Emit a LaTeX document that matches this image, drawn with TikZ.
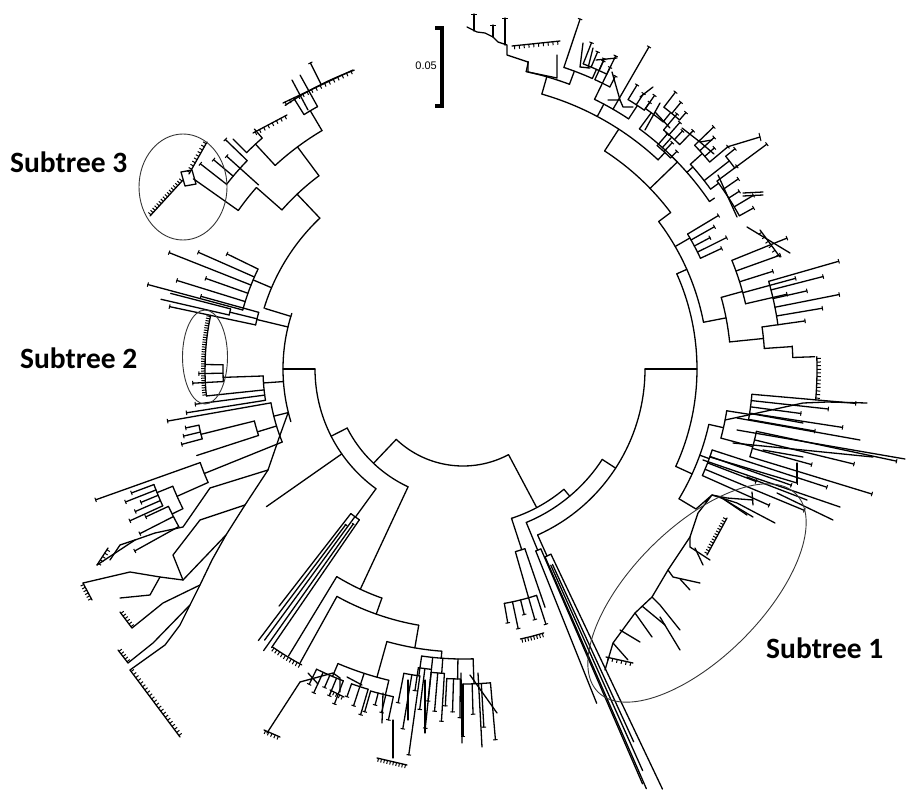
\documentclass[tikz,border=0pt]{standalone}
\usepackage{fontspec}
\setmainfont{Carlito}
\newfontfamily\barfont{Liberation Sans}
\usetikzlibrary{calc}
\tikzset{
  br/.style={line width=1.3pt,line cap=round,line join=round},
  tk/.style={line width=1pt},
  oval/.style={line width=0.9pt,draw=black!80},
  lbl/.style={font=\fontsize{29.5}{30}\selectfont\bfseries,anchor=base west,inner sep=0pt},
}
\newcommand\Rd[3]{\draw[br] (#1:#2) -- (#1:#3);}
\newcommand\Ar[3]{\draw[br] (#2:#1) arc[start angle=#2,end angle=#3,radius=#1];}
\newcommand\Tp[2]{\pgfmathsetmacro\dd{130/#2}\draw[tk] (#1-\dd:#2) -- (#1+\dd:#2);}
\newcommand\Fan[6]{\Ar{#3}{#1}{#2}%
  \foreach \i in {1,...,#4}{%
    \pgfmathsetmacro\aa{#1+(#2-#1)*(\i-1)/(#4-1)}%
    \pgfmathsetmacro\rr{#5+(#6-#5)*mod(\i*0.618+0.3,1)}%
    \draw[br] (\aa:#3) -- (\aa:\rr);\Tp{\aa}{\rr}}}
\newcommand\ArL[4]{\Ar{#1}{#2}{#3}%
  \pgfmathsetmacro\ro{#1+4}%
  \foreach \i in {1,...,#4}{%
    \pgfmathsetmacro\aa{#2+(#3-#2)*(\i-0.5)/#4}%
    \draw[tk] (\aa:#1) -- (\aa:\ro);}}
\newcommand\Lad[4]{\draw[br] (#1) -- (#2);
  \foreach \k in {1,...,#3}{%
    \pgfmathsetmacro\t{(\k-0.5)/#3}%
    \draw[tk] ($(#1)!\t!(#2)$) -- ($($(#1)!\t!(#2)$)!3.5pt!#4:(#2)$);}}
\begin{document}
\begin{tikzpicture}[x=1pt,y=1pt,yscale=-1]
\useasboundingbox (0,0) rectangle (910,795);
\begin{scope}[shift={(463,369)}]
% ---- root
\Ar{97}{62}{133.5}
% ---- right half skeleton
\Rd{62}{97}{157}\Ar{157}{50}{72}
\Rd{50}{157}{166}\Ar{166}{33}{67.6}
\Rd{33}{166}{182}\Ar{182}{0}{65.8}
\Rd{0}{182}{234}\Ar{234}{-24}{24.6}
\Rd{-24}{234}{245}\Ar{245}{-37}{-11}
\Rd{-37}{245}{260}\Ar{260}{-57}{-37}
\Rd{-11}{245}{268}\Ar{268}{-15.5}{-5.8}
\Rd{24.6}{234}{252}\Ar{252}{12.7}{31}
% ---- top right clade
\Rd{-57}{260}{286}\Ar{286}{-74}{-47}
\Rd{-74}{286}{304}\Ar{304}{-78}{-69.5}
\Rd{-78}{304}{314}
\Rd{-69.5}{304}{318}\Ar{318}{-71.5}{-66}
\Rd{-71.5}{318}{369}\Tp{-71.5}{369}
\Rd{-66}{318}{328}\Fan{-68.5}{-64}{328}{4}{336}{352}
\Rd{-62}{286}{300}\Ar{300}{-64}{-56.5}
\Rd{-64}{300}{318}\Fan{-65.5}{-62.5}{318}{3}{328}{342}
\Rd{-60}{300}{372}\Tp{-60}{372}
\Rd{-56.5}{300}{316}\Fan{-58.5}{-55}{316}{3}{324}{334}
\Rd{-47}{286}{296}\Fan{-49}{-45.5}{296}{3}{304}{312}
\Rd{-44}{260}{298}\Ar{298}{-53.7}{-34.2}
\Rd{-53.7}{298}{318}\Ar{318}{-55}{-51}\Rd{-55}{318}{334}\Tp{-55}{334}
\Rd{-51}{318}{330}\Fan{-52.5}{-49}{330}{3}{338}{350}
\Rd{-48}{298}{312}\Fan{-50}{-46}{312}{4}{322}{334}
\Rd{-41.3}{298}{306}\Ar{306}{-42}{-36}
\Rd{-42}{306}{322}\Fan{-44}{-40}{322}{4}{332}{350}
\Rd{-38}{306}{338}\Ar{338}{-39}{-36.5}\Rd{-36.5}{338}{378}\Tp{-36.5}{378}\Rd{-39}{338}{350}\Tp{-39}{350}
\Rd{-36}{306}{316}\Fan{-36.5}{-29}{316}{5}{326}{342}
\Rd{-34.2}{298}{304}
\Rd{-30}{245}{262}\Fan{-31}{-25}{262}{5}{276}{300}
% ---- right
\Rd{-15.5}{268}{290}\Fan{-22}{-13}{290}{5}{320}{352}
\Rd{-5.8}{268}{302}\Ar{302}{-8}{-3.9}
\Rd{-8}{302}{318}\Fan{-16}{-8}{318}{6}{345}{395}
\Rd{-3.9}{302}{330}\Ar{330}{-2}{-4}\Rd{-2}{330}{352}
\ArL{354}{-2}{5}{12}
% right lower
\Rd{12.7}{252}{267}\Ar{267}{9}{15}
\Rd{9}{267}{290}\Fan{5}{10}{290}{5}{330}{400}
\Rd{15}{267}{300}\Fan{12}{17}{300}{4}{345}{452}
\Rd{20}{252}{262}\Fan{18}{24}{262}{5}{300}{390}
\Rd{31}{252}{272}
% long lines to the bottom
\Rd{72}{157}{190}\Ar{190}{71}{74}
\Rd{67.6}{166}{196}\Ar{196}{66.6}{68.2}
\Rd{65.8}{182}{205}\Ar{205}{64.6}{66.4}
\Rd{66.6}{196}{452}\Rd{68.2}{196}{360}
\Rd{64.6}{205}{465}\Rd{66.4}{205}{458}
\Rd{65.4}{215}{410}\Rd{65.9}{215}{440}
\Rd{71}{190}{252}\Rd{74}{190}{238}
\Fan{72}{80}{238}{5}{250}{270}
\ArL{276}{73}{78}{8}
% ---- left half skeleton
\Rd{133.5}{97}{130}\Ar{130}{115}{153}
\Rd{153}{130}{148}\Ar{148}{126}{180}
\Rd{180}{148}{180}\Ar{180}{163}{198}
\Rd{126}{148}{183}\Ar{183}{124.5}{127.8}
\Rd{124.5}{183}{338}\Rd{125.3}{190}{345}\Rd{126.2}{183}{336}\Rd{127.0}{195}{340}\Rd{127.8}{183}{300}
\Ar{190}{125}{125.6}\Ar{195}{126.5}{127.2}
\Rd{115}{130}{243}\Ar{243}{109.5}{121.3}
\Rd{109.5}{243}{260}\Ar{260}{99.8}{119}
\Rd{99.8}{260}{283}\Ar{283}{94.3}{105.6}
\Rd{121.3}{243}{336}\Rd{119}{260}{336}
\ArL{337}{118.6}{124.4}{10}
\Rd{105.6}{283}{320}\Ar{320}{103.4}{113}
\Rd{94.3}{283}{290}\Ar{290}{88}{98.2}
% bottom middle fans
\Rd{88}{290}{315}\Fan{85}{90}{315}{4}{340}{375}
\Rd{91}{290}{310}\Fan{90.5}{93}{310}{3}{335}{350}
\Rd{94}{290}{305}\Fan{93.5}{96}{305}{3}{330}{355}
\Rd{96}{290}{302}\Fan{96}{98.5}{302}{3}{318}{365}
\Rd{98.2}{290}{310}\Fan{98}{101}{310}{3}{330}{395}
\Rd{103.4}{320}{335}\Fan{102}{106}{335}{4}{345}{360}
\Rd{108}{320}{334}\Fan{106.5}{109.5}{334}{3}{345}{362}
\Rd{113}{320}{334}\Fan{111}{116}{334}{5}{345}{360}
% left upper skeleton
\Rd{197}{180}{207}\Ar{208}{197}{226.5}
\Rd{226.5}{208}{241}\Ar{241}{221.3}{233.3}
\Rd{221.3}{241}{275}\Ar{275}{215.2}{221.3}
\Rd{215.2}{275}{330}
\Rd{233.3}{241}{277}\Ar{277}{227.3}{239.4}
\Rd{227.3}{277}{306}\Rd{239.4}{277}{300}
\Ar{300}{238}{241}\Rd{238}{300}{318}\Rd{241}{300}{336}
\Ar{306}{225}{229}\Rd{225}{306}{325}\Rd{229}{306}{318}
\Ar{318}{236}{250}
\Rd{243.5}{318}{342}\Tp{243.5}{342}
\Rd{222}{275}{300}\Fan{218}{224}{300}{4}{315}{335}
% left upper clade
\Rd{203}{208}{228}\Fan{195}{206}{228}{6}{262}{332}
\Rd{193.5}{180}{212}\Ar{212}{192}{195.5}
\Rd{192}{212}{300}\Tp{192}{300}\Rd{195.5}{212}{272}\Tp{195.5}{272}
\Rd{193.7}{212}{240}\Ar{240}{193}{194.5}\Rd{193}{240}{310}\Rd{194.5}{240}{302}
% subtree 2 comb
\Rd{176}{180}{200}\Ar{200}{171}{178}
\Rd{174}{200}{258}\ArL{258}{174}{192}{34}
\Rd{171}{200}{280}\Tp{171}{280}\Rd{172.5}{200}{270}\Tp{172.5}{270}
\Rd{178}{200}{240}\Fan{177}{181}{240}{3}{255}{272}
% left lower
\Rd{166}{180}{195}\Ar{195}{158}{170}
\Rd{170}{195}{300}\Tp{170}{300}
\Rd{158}{195}{279}\Ar{279}{156}{160.4}
\Rd{160.4}{279}{390}\Tp{160.4}{390}
\Rd{156}{279}{313}\Ar{313}{153.5}{158}
\Rd{158}{313}{330}\Fan{155.5}{159.5}{330}{5}{345}{368}
\Rd{153.5}{313}{325}\Fan{151}{155}{325}{3}{345}{378}
\Rd{163}{195}{215}\Ar{215}{162}{166}\Rd{162}{215}{280}\Rd{166}{215}{270}
\Fan{165}{168}{270}{3}{282}{292}
\Rd{145}{148}{240}
\end{scope}
% top right staircase and details (cartesian)
\draw[br] (528,62) -- (507,55) -- (507,45) -- (498,42) -- (493,37) -- (485,33) -- (477,32) -- (467,27);
\draw[br] (474,31) -- (474,14); \draw[tk] (471,14) -- (477,14);
\draw[br] (493,37) -- (493,25); \draw[tk] (490,25) -- (496,25);
\draw[br] (505,45) -- (505,18); \draw[tk] (502,18) -- (508,18);
\Lad{512,46}{560,41}{10}{90}
\draw[br] (528,62) -- (528,72) -- (557,78) -- (557,55);
\draw[br] (583,43) -- (580,67) -- (590,68);
\draw[br] (593,48) -- (588,68);
\draw[br] (596,60) -- (617,58);
\draw[br] (612,72) -- (620,100);
\draw[br] (608,100) -- (620,100) -- (623,107) -- (633,107);
\draw[br] (640,97) -- (653,87);
\draw[br] (660,103) -- (645,130);
\draw[br] (655,112) -- (670,128);
\draw[br] (682,128) -- (700,142) -- (712,140);
\draw[br] (700,142) -- (714,154);
\draw[br] (727,147) -- (760,137); \draw[tk] (759,133) -- (761,141);
\draw[br] (718,175) -- (737,217);
\draw[br] (743,193) -- (763,192); \draw[br] (743,196) -- (763,195);
\draw[br] (747,227) -- (790,253);
\Lad{760,230}{780,257}{6}{90}
% left lower clade (cartesian)
\draw[br] (288,413) -- (279,438) -- (268,470) -- (245,505) -- (226,535) -- (212,560) -- (200,585) -- (190,605) -- (180,625) -- (165,645) -- (130,670);
\draw[br] (268,470) -- (210,488) -- (183,527) -- (155,533) -- (135,540) -- (97,565);
\draw[br] (245,505) -- (200,520) -- (173,555) -- (183,580);
\draw[br] (183,580) -- (160,577) -- (130,572) -- (83,583);
\draw[br] (226,535) -- (183,580);
\draw[br] (200,585) -- (163,603) -- (132,628);
\draw[br] (190,605) -- (153,643) -- (128,663);
\draw[br] (160,577) -- (150,595) -- (120,598);
\draw[br] (135,540) -- (120,545) -- (110,560);
\Lad{83,583}{92,600}{6}{90}
\Lad{132,628}{120,612}{6}{90}
\Lad{128,663}{118,650}{5}{90}
\Lad{130,670}{180,737}{22}{-90}
\Lad{97,565}{108,548}{5}{90}
% bottom middle details
\draw[br] (300,682) -- (267,733);
\Lad{264,730}{280,737}{5}{90}
\draw[br] (300,682) -- (333,673) -- (340,678) -- (340,692);
\Lad{330,690}{344,697}{5}{90}
\draw[br] (308,673) -- (318,684);
\draw[br] (347,677) -- (362,685);
\draw[br] (393,720) -- (393,758);
\Lad{377,758}{407,765}{10}{90}
\draw[br] (408,680) -- (408,720);
\draw[br] (425,680) -- (425,733);
\draw[br] (461,673) -- (462,743);
\draw[br] (478,673) -- (482,747);
\draw[br] (470,675) -- (497,713);
\draw[br] (383,693) -- (382,723);
% subtree 1
\draw[br] (696,509) -- (712,495) -- (698,513) -- (690,537) -- (668,570) -- (652,597) -- (635,613) -- (613,643) -- (605,670);
\draw[br] (712,495) -- (727,498) -- (753,500);
\draw[br] (712,495) -- (737,503) -- (775,523);
\draw[br] (720,497) -- (753,517);
\draw[br] (725,500) -- (747,515);
\draw[br] (752,492) -- (753,505);
\Lad{727,518}{707,555}{14}{90}
\draw[br] (690,537) -- (690,547) -- (710,560);
\draw[br] (695,548) -- (703,565);
\draw[br] (668,570) -- (673,577) -- (700,583);
\draw[br] (680,579) -- (690,590);
\draw[br] (652,597) -- (660,605) -- (680,630);
\draw[br] (660,617) -- (680,650);
\draw[br] (642,606) -- (665,625);
\draw[br] (635,613) -- (652,637);
\draw[br] (620,630) -- (640,642);
\draw[br] (613,643) -- (628,660);
\Lad{606,657}{633,663}{6}{90}
% right lower lines
\draw[br] (725,420) -- (753,414) -- (803,423);
\draw[br] (753,414) -- (803,403) -- (827,402) -- (867,403);
\draw[br] (737,418) -- (860,440);
\draw[br] (737,430) -- (905,459);
\draw[br] (733,443) -- (873,457);
\draw[br] (763,450) -- (803,457);
\draw[br] (710,457) -- (797,483);
\Lad{797,463}{797,483}{6}{0}
\draw[br] (747,477) -- (807,500);
\draw[br] (703,460) -- (840,507);
\draw[br] (777,493) -- (833,520);
% top-left details
\Lad{189,174}{207,142}{10}{-90}
\Lad{183,180}{150,216}{16}{90}
\draw[br] (181,172) -- (192,170) -- (196,184) -- (185,186) -- cycle;
\Lad{253,133}{287,115}{8}{90}
\Lad{283,103}{353,70}{16}{90}
\draw[br] (292,80) -- (308,110);
% subtree ellipses
\draw[oval] (183,187) ellipse [x radius=44, y radius=53];
\draw[oval] (205,357) ellipse [x radius=22.5, y radius=47];
\draw[oval,rotate around={-45:(697,593)}] (697,593) ellipse [x radius=140, y radius=65];
% labels
\node[lbl] (s3) at (10,172) {Subtree 3};
\node[lbl] (s2) at (20,368) {Subtree 2};
\node[lbl] (s1) at (766,658) {Subtree 1};
% scale bar
\draw[line width=3.6pt] (435,28) -- (442,28) -- (442,106) -- (435,106);
\node[font=\barfont\fontsize{11}{12}\selectfont,anchor=east,inner sep=0pt] (sc) at (437,66) {0.05};
\end{tikzpicture}
\end{document}
